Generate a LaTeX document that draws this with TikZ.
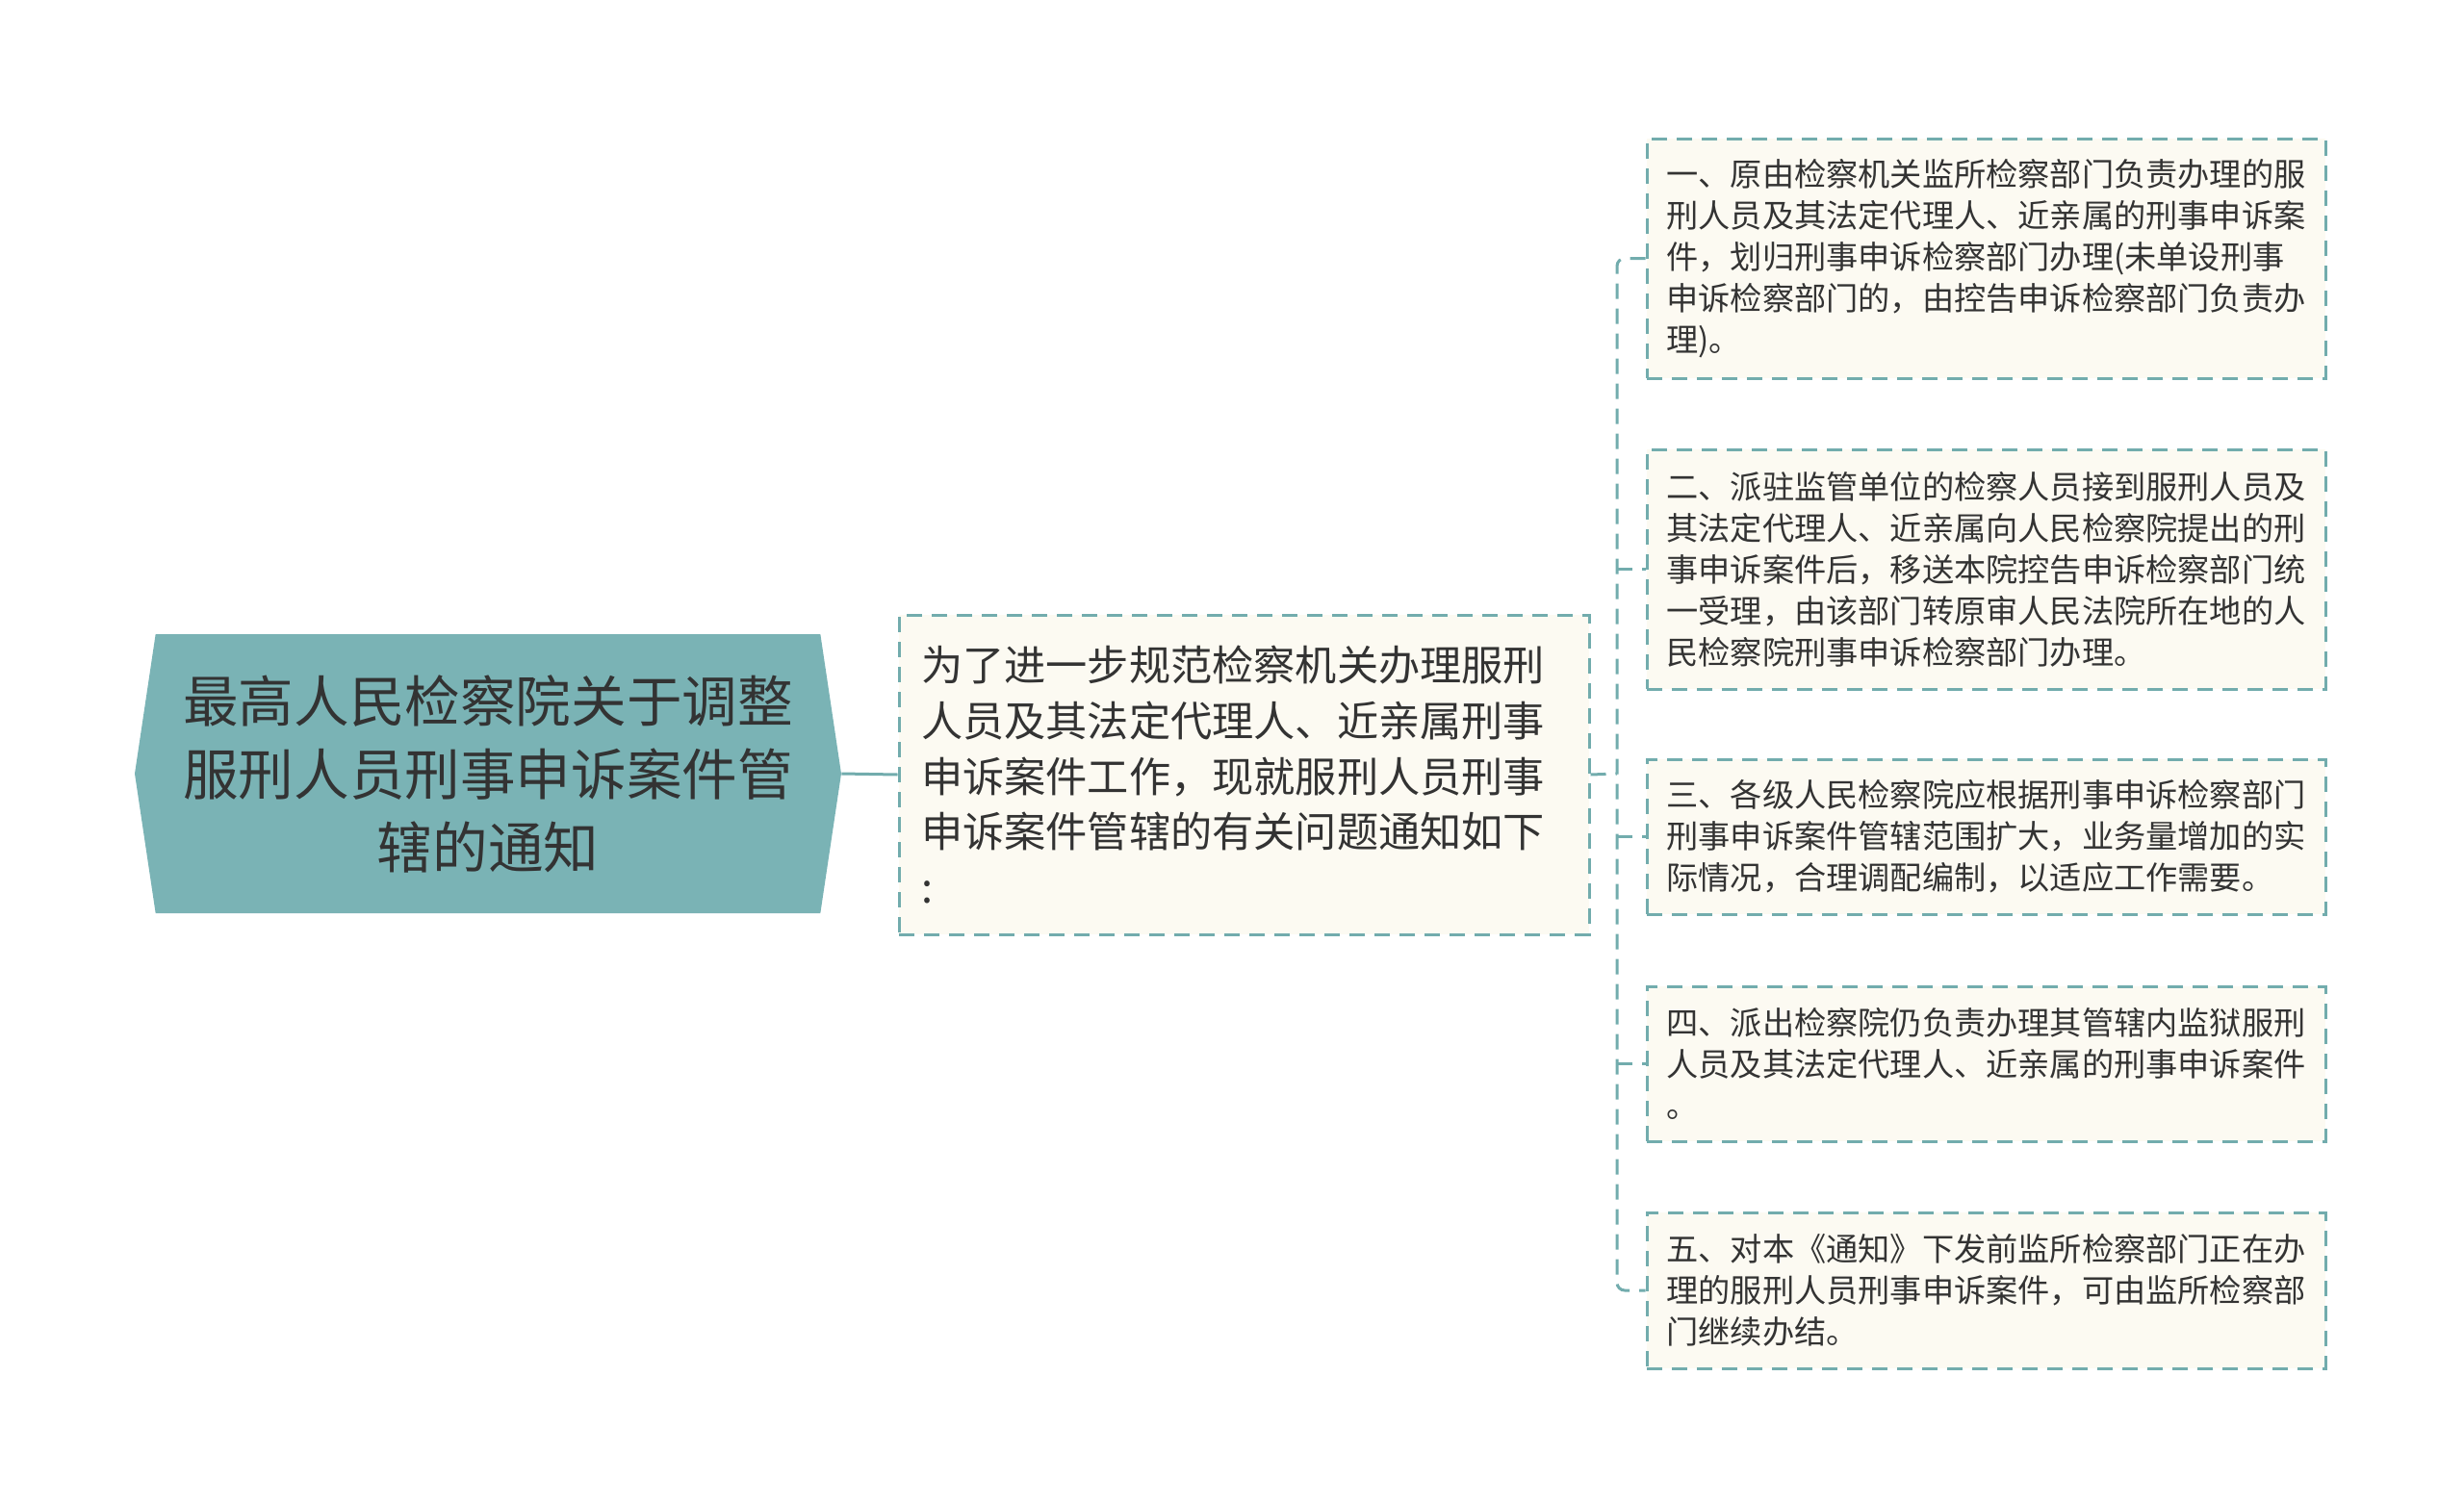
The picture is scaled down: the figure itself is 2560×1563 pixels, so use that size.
\documentclass[tikz,border=0pt]{standalone}
\usepackage{fontspec}
\setmainfont{Noto Sans CJK SC}
\usepackage{tikz}
\usetikzlibrary{positioning, shapes.symbols}
\definecolor{tealMain}{HTML}{7AB3B5}
\definecolor{tealLine}{HTML}{72ACAD}
\definecolor{creamFill}{HTML}{FCFAF2}
\definecolor{textDark}{HTML}{333333}

\begin{document}
\begin{tikzpicture}[x=0.5pt, y=-0.5pt,
    rootbox/.style={shape=signal, signal to=east and west, signal pointer angle=163,
        fill=tealMain, minimum width=367pt, minimum height=145pt, inner sep=0pt,
        align=center, text=textDark, font=\fontsize{28.8}{38}\selectfont},
    notebox/.style={draw=tealLine, line width=1.5pt, dash pattern=on 8pt off 5pt,
        fill=creamFill, text=textDark, align=left, inner sep=0pt},
    introbox/.style={notebox, inner xsep=11.5pt, text width=335.5pt, minimum height=166pt,
        font=\fontsize{21.6}{28.9}\selectfont},
    itembox/.style={notebox, minimum width=352.5pt, font=\fontsize{16.6}{21.5}\selectfont},
    link/.style={tealLine, line width=1.5pt, dash pattern=on 8pt off 5pt},
    trunk/.style={tealLine, line width=1.5pt}
]
    % Frame
    \useasboundingbox (0,0) rectangle (2560,1563);

    % Root and intro
    \node[rootbox] (root) at (507,804) {最高人民检察院关于调整\\服刑人员刑事申诉案件管\\辖的通知};
    \node[introbox] (intro) at (1292.5,805) {为了进一步规范检察机关办理服刑\\人员及其法定代理人、近亲属刑事\\申诉案件工作，现就服刑人员刑事\\申诉案件管辖的有关问题通知如下\\:};

    % Items
    \node[itembox, minimum height=124.5pt] (item1) at (2063.5,268.5) {一、原由检察机关监所检察部门负责办理的服\\刑人员及其法定代理人、近亲属的刑事申诉案\\件，划归刑事申诉检察部门办理(未单设刑事\\申诉检察部门的，由控告申诉检察部门负责办\\理)。};
    \node[itembox, minimum height=124.5pt] (item2) at (2063.5,591.5) {二、派驻监管单位的检察人员接到服刑人员及\\其法定代理人、近亲属向人民检察院提出的刑\\事申诉案件后，移送本院控告申诉检察部门统\\一受理，由该部门转原审人民法院所在地的人\\民检察院刑事申诉检察部门办理。};
    \node[itembox, minimum height=80.5pt] (item3) at (2063.5,869.5) {三、各级人民检察院应根据刑事申诉检察部门\\刑事申诉案件管辖范围扩大，业务量增加的实\\际情况，合理调配编制，以适应工作需要。};
    \node[itembox, minimum height=80.5pt] (item4) at (2063.5,1105.5) {四、派出检察院仍负责办理其管辖内监狱服刑\\人员及其法定代理人、近亲属的刑事申诉案件\\。};
    \node[itembox, minimum height=81pt] (item5) at (2063.5,1341) {五、对本《通知》下发前监所检察部门正在办\\理的服刑人员刑事申诉案件，可由监所检察部\\门继续办结。};

    % Connectors
    \coordinate (fork) at (1680,804);
    \draw[trunk] (root.east) -- (intro.west);
    \draw[link] (intro.east) -- (fork);
    \draw[link, rounded corners=4pt] (item1.west) -| (fork) |- (item5.west);
    \foreach \i in {2,3,4}
        \draw[link] (fork |- item\i.west) -- (item\i.west);
\end{tikzpicture}
\end{document}
